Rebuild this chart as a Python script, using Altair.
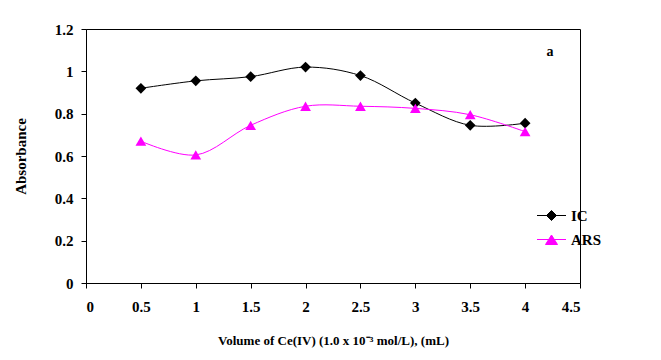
import altair as alt
import pandas as pd

volume = [0.5, 1.0, 1.5, 2.0, 2.5, 3.0, 3.5, 4.0]
ic_abs = [0.92, 0.955, 0.975, 1.02, 0.98, 0.85, 0.745, 0.755]
ars_abs = [0.67, 0.605, 0.745, 0.835, 0.835, 0.825, 0.795, 0.715]
series_names = ["IC", "ARS"]
series_colors = ["#000000", "#ff00ff"]
series_markers = ["diamond", "triangle-up"]
x_ticks = [0, 0.5, 1, 1.5, 2, 2.5, 3, 3.5, 4, 4.5]
y_ticks = [0, 0.2, 0.4, 0.6, 0.8, 1, 1.2]

rows = []
for name, vals in zip(series_names, [ic_abs, ars_abs]):
    for v, a in zip(volume, vals):
        rows.append({"series": name, "volume": v, "absorbance": a})
df = pd.DataFrame(rows)

FONT = "Liberation Serif"

x_enc = alt.X("volume:Q",
              scale=alt.Scale(domain=[0, 4.5], nice=False),
              axis=alt.Axis(values=x_ticks, format="~g",
                            title="Volume of Ce(IV) (1.0 x 10⁻³ mol/L), (mL)",
                            titleFontSize=13,
                            labelPadding=11, titlePadding=20))
y_enc = alt.Y("absorbance:Q",
              scale=alt.Scale(domain=[0, 1.2], nice=False),
              axis=alt.Axis(values=y_ticks, format="~g", title="Absorbance",
                            titleFontSize=15,
                            labelPadding=8, titlePadding=26))

base = alt.Chart(df)

layers = []
for name, col, mk in zip(series_names, series_colors, series_markers):
    sub = base.transform_filter(alt.datum.series == name)
    layers.append(sub.mark_line(interpolate="catmull-rom", strokeWidth=1,
                                color=col).encode(x=x_enc, y=y_enc))
for name, col, mk in zip(series_names, series_colors, series_markers):
    sub = base.transform_filter(alt.datum.series == name)
    layers.append(sub.mark_point(filled=True, opacity=1, size=115, shape=mk,
                                 color=col).encode(x=x_enc, y=y_enc))

path_ic = "M-1.45,0H1.45M0,-0.5L0.5,0L0,0.5L-0.5,0Z"
path_ars = "M-1.45,0H1.45M0,-0.45L0.6,0.5L-0.6,0.5Z"

leg = alt.Legend(
    title=None, orient="none", legendX=455, legendY=176,
    symbolSize=400, symbolOpacity=1, symbolStrokeWidth=1,
    rowPadding=5, labelOffset=9, padding=0,
    labelFont=FONT, labelFontWeight="bold", labelFontSize=15,
    labelColor="black")

legend_layer = base.mark_point(filled=True, opacity=0).encode(
    x=x_enc, y=y_enc,
    fill=alt.Fill("series:N", scale=alt.Scale(domain=series_names, range=series_colors), legend=leg),
    stroke=alt.Stroke("series:N", scale=alt.Scale(domain=series_names, range=series_colors), legend=leg),
    shape=alt.Shape("series:N", scale=alt.Scale(domain=series_names, range=[path_ic, path_ars]), legend=leg),
)
layers.append(legend_layer)

label_df = pd.DataFrame({"t": ["a"]})
label_a = alt.Chart(label_df).mark_text(
    font=FONT, fontWeight="bold", fontSize=14, color="black", align="center",
    baseline="middle").encode(text="t:N", x=alt.value(464), y=alt.value(23))
layers.append(label_a)

chart = alt.layer(*layers).properties(
    width=494, height=254,
    autosize=alt.AutoSizeParams(type="none"),
    padding={"left": 78, "top": 21, "right": 73, "bottom": 69},
).configure_view(
    stroke="black", strokeWidth=1
).configure_axis(
    grid=False, domainColor="black", tickColor="black", tickSize=5,
    labelFont=FONT, labelFontWeight="bold", labelFontSize=15, labelColor="black",
    titleFont=FONT, titleFontWeight="bold", titleColor="black",
)

chart.save("out.html", embed_options={"renderer": "svg", "actions": False})
